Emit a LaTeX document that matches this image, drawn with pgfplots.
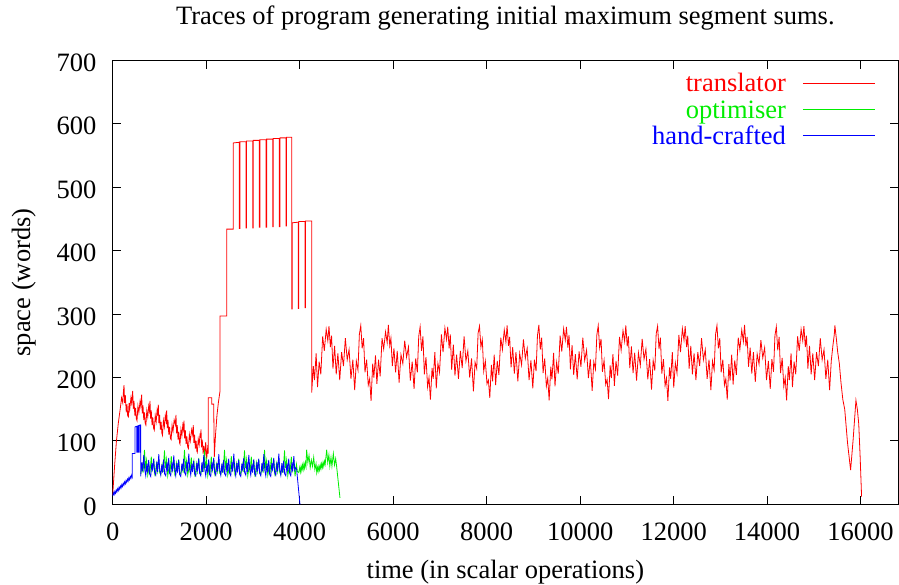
\documentclass[border=0pt]{standalone}
\usepackage{pgfplots}
\pgfplotsset{compat=1.18}
\usepackage{fontspec}
\setmainfont{Liberation Serif}
\newcommand{\chartfont}{\fontsize{26.5}{31}\selectfont}
\definecolor{tracered}{rgb}{1,0,0}
\definecolor{tracegreen}{rgb}{0,0.93,0}
\definecolor{traceblue}{rgb}{0,0,1}

\begin{document}
\begin{tikzpicture}[x=1pt,y=1pt]
\begin{axis}[
  at={(112.7pt,79.7pt)}, anchor=south west,
  scale only axis, width=785.3pt, height=443.8pt,
  xmin=0, xmax=16800, ymin=0, ymax=700,
  xtick={0,2000,...,16000}, ytick={0,100,...,700},
  scaled ticks=false,
  /pgf/number format/assume math mode=true,
  /pgf/number format/1000 sep={},
  tick align=inside, tick pos=both,
  major tick length=8pt,
  every tick/.style={black, line width=0.9pt},
  axis line style={black, line width=1pt},
  tick label style={font=\chartfont, inner sep=0pt},
  xticklabel style={anchor=north, yshift=-18.7pt},
  yticklabel style={anchor=base east, xshift=-16pt, yshift=-11pt},
  title={Traces of program generating initial maximum segment sums.},
  title style={font=\chartfont, at={(axis description cs:0.5,1.0687)}, anchor=base, inner sep=0pt},
  xlabel={time (in scalar operations)},
  xlabel style={font=\chartfont, at={(axis description cs:0.5,-0.1683)}, anchor=base, inner sep=0pt},
  ylabel={space (words)},
  ylabel style={font=\chartfont, at={(axis description cs:-0.1053,0.5)}, anchor=base, rotate=0, inner sep=0pt},
  legend cell align=right, legend plot pos=right,
  legend style={at={(axis description cs:0.9707,0.9696)}, anchor=north east,
    draw=none, fill=none, inner sep=0pt, outer sep=0pt, font=\chartfont,
    row sep=8.4pt, column sep=16.6pt,
    nodes={inner sep=0pt, text height=17.9pt, text depth=0pt}},
  legend image code/.code={\draw[#1] (0pt,0pt) -- (71.7pt,0pt);},
]

% translator
\addplot[color=tracered, line width=0.8pt, mark=none] coordinates {
(0,15) (40,60) (80,100) (120,128) (160,150) (190,168) (215,160) (230,178) (242,188) (255,160) (270,172) (290,145) (305,158) (320,140) (335,138) (350,160) (365,150) (390,168) (405,160) (428,179) (440,150) (455,163) (475,140) (490,152) (505,135) (520,132) (540,155) (560,145) (585,162) (600,155) (620,173) (632,143) (648,156) (665,133) (680,145) (695,128) (710,125) (730,148) (750,138) (770,155) (785,148) (798,163) (810,135) (825,148) (842,125) (858,137) (875,120) (890,117) (910,140) (930,130) (950,148) (965,140) (976,157) (988,128) (1003,141) (1020,118) (1036,130) (1052,112) (1065,109) (1085,132) (1105,122) (1125,140) (1142,132) (1155,148) (1168,120) (1183,133) (1200,110) (1216,122) (1235,104) (1250,102) (1270,125) (1290,115) (1315,133) (1340,126) (1354,141) (1366,112) (1381,125) (1398,102) (1414,114) (1430,97) (1440,95) (1460,118) (1480,108) (1500,125) (1515,118) (1525,132) (1538,104) (1553,117) (1570,95) (1586,107) (1605,90) (1620,88) (1640,110) (1660,100) (1690,118) (1710,110) (1724,125) (1736,97) (1751,110) (1768,88) (1784,100) (1800,84) (1810,82) (1830,103) (1850,94) (1870,112) (1880,105) (1889,118) (1900,90) (1915,102) (1935,80) (1950,92) (1970,76) (1990,98) (2010,72) (2030,88) (2045,80) (2045,168) (2117,168) (2117,158) (2160,158) (2174,75) (2200,110) (2230,140) (2260,160) (2295,178) (2295,297) (2439,297) (2439,434) (2580,434) (2580,570)
(2709,571) (2709,435) (2721,435) (2721,572) (2851,572) (2851,436) (2863,436) (2863,573) (2995,573) (2995,436) (3007,436) (3007,574) (3137,574) (3137,437) (3149,437) (3149,575) (3281,575) (3281,437) (3293,437) (3293,576) (3423,576) (3423,438) (3435,438) (3435,577) (3565,577) (3565,438) (3577,438) (3577,578) (3707,578) (3707,439) (3719,439) (3719,579) (3829,579) (3829,308) (3841,308) (3841,444) (3970,445) (3970,309) (3982,309) (3982,446) (4113,446) (4113,310) (4125,310) (4125,447) (4257,447)
(4257,176) (4292,218) (4317,196) (4352,238) (4382,185) (4417,225) (4452,205) (4492,265) (4527,242) (4567,276) (4602,258) (4627,281) (4657,248) (4682,266) (4712,214) (4747,250) (4782,205) (4817,238) (4857,196) (4897,240) (4937,218) (4977,262) (5017,228) (5057,244) (5097,198) (5137,228) (5177,180) (5212,226) (5247,212) (5277,268) (5307,282) (5337,246) (5367,262) (5397,208) (5432,228) (5467,188) (5497,198)
(5527,163) (5562,222) (5587,200) (5622,235) (5652,190) (5687,228) (5722,202) (5762,262) (5797,245) (5837,272) (5872,255) (5897,283) (5927,250) (5952,262) (5982,218) (6017,246) (6052,208) (6087,242) (6127,192) (6167,236) (6207,222) (6247,258) (6287,232) (6327,248) (6367,195) (6407,225) (6447,182) (6482,230) (6517,208) (6547,265) (6577,280) (6607,242) (6637,265) (6667,205) (6702,232) (6737,185) (6767,200)
(6797,165) (6832,215) (6857,198) (6892,240) (6922,183) (6957,222) (6992,208) (7032,268) (7067,240) (7107,278) (7142,260) (7167,280) (7197,246) (7222,268) (7252,212) (7287,252) (7322,203) (7357,236) (7397,198) (7437,242) (7477,215) (7517,265) (7557,226) (7597,242) (7637,200) (7677,230) (7717,178) (7752,224) (7787,214) (7817,270) (7847,281) (7877,248) (7907,260) (7937,210) (7972,226) (8007,190) (8037,196)
(8067,168) (8102,220) (8127,194) (8162,236) (8192,188) (8227,226) (8262,204) (8302,263) (8337,244) (8377,275) (8412,256) (8437,282) (8467,250) (8492,264) (8522,216) (8557,248) (8592,206) (8627,240) (8667,194) (8707,238) (8747,220) (8787,260) (8827,230) (8867,246) (8907,196) (8947,227) (8987,183) (9022,228) (9057,210) (9087,266) (9117,283) (9147,244) (9177,263) (9207,207) (9242,230) (9277,186) (9307,199)
(9337,164) (9372,217) (9397,197) (9432,239) (9462,186) (9497,224) (9532,206) (9572,266) (9607,241) (9647,277) (9682,259) (9707,280) (9737,247) (9762,267) (9792,213) (9827,251) (9862,204) (9897,237) (9937,197) (9977,241) (10017,217) (10057,263) (10097,227) (10137,243) (10177,199) (10217,229) (10257,179) (10292,225) (10327,213) (10357,267) (10387,282) (10417,247) (10447,261) (10477,209) (10512,227) (10547,189) (10577,197)
(10607,166) (10642,219) (10667,199) (10702,237) (10732,187) (10767,226) (10802,203) (10842,264) (10877,243) (10917,274) (10952,257) (10977,282) (11007,249) (11032,265) (11062,215) (11097,249) (11132,207) (11167,239) (11207,195) (11247,239) (11287,219) (11327,261) (11367,229) (11407,245) (11447,197) (11487,229) (11527,181) (11562,227) (11597,211) (11627,269) (11657,281) (11687,245) (11717,263) (11747,206) (11782,229) (11817,187) (11847,199)
(11877,163) (11912,216) (11937,198) (11972,240) (12002,184) (12037,223) (12072,207) (12112,267) (12147,240) (12187,277) (12222,259) (12247,281) (12277,248) (12302,266) (12332,214) (12367,250) (12402,205) (12437,238) (12477,196) (12517,240) (12557,218) (12597,262) (12637,228) (12677,244) (12717,198) (12757,228) (12797,180) (12832,226) (12867,212) (12897,268) (12927,282) (12957,246) (12987,262) (13017,208) (13052,228) (13087,188) (13117,198)
(13147,165) (13182,221) (13207,195) (13242,236) (13272,189) (13307,227) (13342,204) (13382,263) (13417,244) (13457,275) (13492,257) (13517,283) (13547,249) (13572,264) (13602,217) (13637,247) (13672,206) (13707,240) (13747,193) (13787,237) (13827,221) (13867,259) (13907,231) (13947,247) (13987,196) (14027,226) (14067,182) (14102,229) (14137,209) (14167,266) (14197,280) (14227,243) (14257,264) (14287,207) (14322,231) (14357,186) (14387,200)
(14417,164) (14452,218) (14477,196) (14512,238) (14542,185) (14577,225) (14612,205) (14652,265) (14687,242) (14727,276) (14762,258) (14787,281) (14817,248) (14842,266) (14872,214) (14907,250) (14942,205) (14977,238) (15017,196) (15057,240) (15097,218) (15137,262) (15177,228) (15217,244) (15257,198) (15297,228) (15337,180) (15372,226) (15407,250) (15437,268) (15450,282)
(15480,262) (15510,240) (15545,222) (15580,192) (15620,165) (15660,150) (15720,97) (15786,54) (15840,102) (15900,164) (15930,150) (15960,127) (15990,75) (16021,12)
};
\addlegendentry{\textcolor{tracered}{translator}}

% optimiser
\addplot[color=tracegreen, line width=0.8pt, mark=none] coordinates {
(600,48) (630,62) (650,50) (680,86) (700,58) (725,70) (750,46) (780,60) (800,52) (825,75) (850,55) (880,68) (905,44) (935,64) (955,52) (985,72) (1005,50)
(1028,47) (1058,63) (1078,51) (1108,85) (1128,57) (1153,71) (1178,45) (1208,61) (1228,51) (1253,76) (1278,54) (1308,67) (1333,44) (1363,65) (1383,53) (1413,71) (1433,49)
(1456,48) (1486,61) (1506,50) (1536,86) (1556,58) (1581,69) (1606,46) (1636,60) (1656,52) (1681,74) (1706,55) (1736,68) (1761,43) (1791,64) (1811,52) (1841,73) (1861,50)
(1884,48) (1914,62) (1934,51) (1964,85) (1984,57) (2009,70) (2034,45) (2064,61) (2084,52) (2109,75) (2134,54) (2164,69) (2189,44) (2219,63) (2239,52) (2269,72) (2289,49)
(2312,47) (2342,62) (2362,50) (2392,86) (2412,58) (2437,70) (2462,46) (2492,60) (2512,51) (2537,76) (2562,55) (2592,68) (2617,44) (2647,64) (2667,53) (2697,72) (2717,50)
(2740,48) (2770,63) (2790,51) (2820,85) (2840,57) (2865,71) (2890,45) (2920,61) (2940,52) (2965,75) (2990,54) (3020,67) (3045,43) (3075,65) (3095,52) (3125,71) (3145,49)
(3168,48) (3198,62) (3218,50) (3248,86) (3268,58) (3293,69) (3318,46) (3348,60) (3368,52) (3393,74) (3418,55) (3448,68) (3473,44) (3503,64) (3523,52) (3553,73) (3573,50)
(3596,47) (3626,61) (3646,50) (3676,85) (3696,57) (3721,70) (3746,45) (3776,61) (3796,52) (3821,75) (3846,54) (3876,68) (3901,44) (3931,63) (3951,52)
(3980,50) (4000,58) (4015,51) (4030,60) (4045,53) (4060,62) (4075,55) (4090,64) (4105,57) (4120,66) (4135,60) (4149,86) (4175,66) (4200,77) (4225,58) (4250,70) (4275,60) (4300,74) (4325,55) (4350,64) (4365,50)
(4380,58) (4395,52) (4410,60) (4425,54) (4440,62) (4455,56) (4470,64) (4485,58) (4500,66) (4515,60) (4530,68) (4545,63) (4578,86) (4600,66) (4625,78) (4645,60) (4670,74) (4690,60) (4720,80) (4745,62) (4770,72) (4790,60) (4862,10)
};
\addlegendentry{\textcolor{tracegreen}{optimiser}}

% hand-crafted
\addplot[color=traceblue, line width=0.8pt, mark=none] coordinates {
(0,13) (15,18.1) (30,15.1) (45,20.2) (60,17.3) (75,22.4) (90,19.4) (105,24.5) (120,21.6) (135,26.7) (150,23.7) (165,28.8) (180,25.9) (195,31) (210,28) (225,33.1) (240,30.2) (255,35.3) (270,32.3) (285,37.4) (300,34.5) (315,39.6) (330,36.6) (345,41.7) (360,38.8) (375,43.8) (390,40.9) (405,46) (419,43)
(419,80) (477,80) (477,122) (513,123) (513,82) (523,82) (523,123) (548,124) (548,82) (558,82) (558,124) (584,125) (584,82) (594,82) (594,125) (599,125) (599,44)
(600,46) (625,66) (640,52) (665,78) (685,55) (707,45) (730,64) (745,50) (770,70) (790,48) (814,44) (837,65) (852,53) (877,72) (897,50)
(921,46) (946,67) (961,51) (986,79) (1006,54) (1028,46) (1051,63) (1066,50) (1091,71) (1111,48) (1135,45) (1158,66) (1173,52) (1198,73) (1218,49)
(1242,45) (1267,66) (1282,52) (1307,77) (1327,55) (1349,45) (1372,65) (1387,50) (1412,70) (1432,47) (1456,44) (1479,64) (1494,53) (1519,72) (1539,50)
(1563,46) (1588,67) (1603,52) (1628,80) (1648,56) (1670,46) (1693,64) (1708,51) (1733,69) (1753,48) (1777,45) (1800,65) (1815,52) (1840,72) (1860,49)
(1884,45) (1909,66) (1924,51) (1949,78) (1969,55) (1991,45) (2014,63) (2029,50) (2054,71) (2074,47) (2098,44) (2121,66) (2136,53) (2161,73) (2181,50)
(2205,46) (2230,65) (2245,52) (2270,79) (2290,54) (2312,46) (2335,64) (2350,50) (2375,70) (2395,48) (2419,45) (2442,65) (2457,52) (2482,72) (2502,49)
(2526,45) (2551,67) (2566,52) (2591,80) (2611,55) (2633,45) (2656,65) (2671,51) (2696,70) (2716,47) (2740,44) (2763,64) (2778,53) (2803,73) (2823,50)
(2847,46) (2872,66) (2887,51) (2912,78) (2932,56) (2954,46) (2977,63) (2992,50) (3017,71) (3037,48) (3061,45) (3084,66) (3099,52) (3124,72) (3144,49)
(3168,45) (3193,65) (3208,52) (3233,79) (3253,54) (3275,45) (3298,64) (3313,51) (3338,70) (3358,47) (3382,44) (3405,65) (3420,53) (3445,73) (3465,50)
(3489,46) (3514,66) (3529,52) (3554,80) (3574,55) (3596,46) (3619,65) (3634,50) (3659,69) (3679,48) (3703,45) (3726,64) (3741,52) (3766,72) (3786,49)
(3810,45) (3835,66) (3850,52) (3875,76) (3895,54) (3915,58) (3935,55) (4006,0)
};
\addlegendentry{\textcolor{traceblue}{hand-crafted}}

\end{axis}
\pgfresetboundingbox
\useasboundingbox (0pt,0pt) rectangle (899pt,584pt);
\end{tikzpicture}
\end{document}
